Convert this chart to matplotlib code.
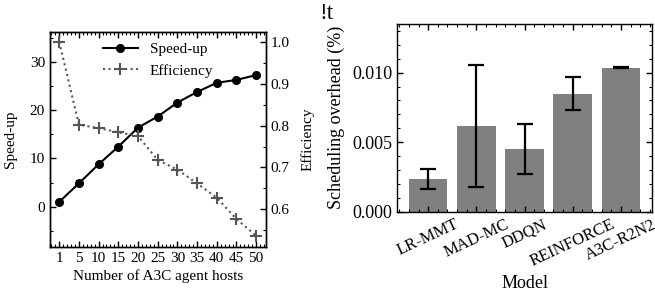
import matplotlib
matplotlib.use("Agg")
import matplotlib.pyplot as plt
import matplotlib.transforms as mtransforms
import numpy as np
from matplotlib.ticker import MultipleLocator, AutoMinorLocator, FormatStrFormatter

plt.rcParams['font.family'] = ['Liberation Serif', 'DejaVu Serif']
plt.rcParams['font.size'] = 11
plt.rcParams['xtick.direction'] = 'in'
plt.rcParams['ytick.direction'] = 'in'
plt.rcParams['axes.linewidth'] = 1.0

# data
hosts = ['1', '5', '10', '15', '20', '25', '30', '35', '40', '45', '50']
speedup = [1.0, 4.85, 8.8, 12.45, 16.4, 18.7, 21.6, 23.8, 25.7, 26.3, 27.3]
efficiency = [1.0, 0.802, 0.794, 0.784, 0.775, 0.718, 0.695, 0.662, 0.628, 0.577, 0.537]

models = ['LR-MMT', 'MAD-MC', 'DDQN', 'REINFORCE', 'A3C-R2N2']
overhead = [0.00236, 0.00618, 0.00452, 0.00849, 0.01036]
overhead_err = [0.00073, 0.00440, 0.00181, 0.00117, 0.00006]

fig = plt.figure(figsize=(6.55, 3.06), dpi=100)

# left panel: speed-up and efficiency
ax1 = fig.add_axes([0.0763, 0.1938, 0.3298, 0.7026])
x = np.arange(len(hosts))
l1, = ax1.plot(x, speedup, color='black', marker='o', markersize=5.5, linewidth=1.5, label='Speed-up')
ax1.set_ylim(-8.3, 36.3)
ax1.set_xlim(-0.47, 10.5)
ax1.set_xticks(x)
ax1.set_xticklabels(hosts)
ax1.xaxis.set_minor_locator(AutoMinorLocator(5))
ax1.yaxis.set_major_locator(MultipleLocator(10))
ax1.yaxis.set_minor_locator(MultipleLocator(5))
ax1.set_xlabel('Number of A3C agent hosts', labelpad=3)
ax1.set_ylabel('Speed-up', labelpad=9)
ax1.tick_params(which='both', top=True, right=False)
ax1.tick_params(which='major', length=4, width=1)
ax1.tick_params(which='minor', length=2, width=0.8)

ax2 = ax1.twinx()
l2, = ax2.plot(x, efficiency, color='#555555', linestyle=':', linewidth=1.5,
               marker='+', markersize=9, markeredgewidth=1.5, label='Efficiency')
ax2.set_ylim(0.511, 1.024)
ax2.yaxis.set_major_locator(MultipleLocator(0.1))
ax2.yaxis.set_minor_locator(MultipleLocator(0.05))
ax2.yaxis.set_major_formatter(FormatStrFormatter('%.1f'))
ax2.set_ylabel('Efficiency', labelpad=8)
ax2.tick_params(which='major', length=4, width=1)
ax2.tick_params(which='minor', length=2, width=0.8)

ax1.legend([l1, l2], ['Speed-up', 'Efficiency'], loc='upper center',
           frameon=False, handlelength=2.3, borderaxespad=0.3, bbox_to_anchor=(0.5, 1.0))

# right panel: scheduling overhead
ax3 = fig.add_axes([0.6066, 0.3082, 0.3884, 0.6134])
xb = np.arange(len(models))
ax3.bar(xb, overhead, width=0.8, color='#808080', yerr=overhead_err,
        error_kw=dict(ecolor='black', elinewidth=1.6, capsize=5.5, capthick=1.6))
ax3.set_ylim(0, 0.0135)
ax3.set_xticks(xb)
ax3.set_xticklabels(models, rotation=25, ha='center', fontsize=12)
# labels sit a little left of the bar centres, as in the original
shifts_px = [-3, -3, -3, -4, -12]
for lab, dx in zip(ax3.get_xticklabels(), shifts_px):
    lab.set_transform(lab.get_transform() + mtransforms.ScaledTranslation(dx / 100, 0, fig.dpi_scale_trans))
ax3.xaxis.set_minor_locator(AutoMinorLocator(5))
ax3.yaxis.set_major_locator(MultipleLocator(0.005))
ax3.yaxis.set_minor_locator(MultipleLocator(0.001))
ax3.yaxis.set_major_formatter(FormatStrFormatter('%.3f'))
ax3.tick_params(axis='y', labelsize=13)
ax3.set_xlabel('Model', fontsize=13)
ax3.set_ylabel('Scheduling overhead (%)', fontsize=13, labelpad=5)
ax3.tick_params(which='both', top=True, right=True)
ax3.tick_params(which='major', length=4, width=1)
ax3.tick_params(which='minor', length=2, width=0.8)

fig.text(320 / 655, 1 - 19 / 306, '!t', fontsize=17, va='baseline', ha='left')

fig.savefig('out.png', dpi=100)
